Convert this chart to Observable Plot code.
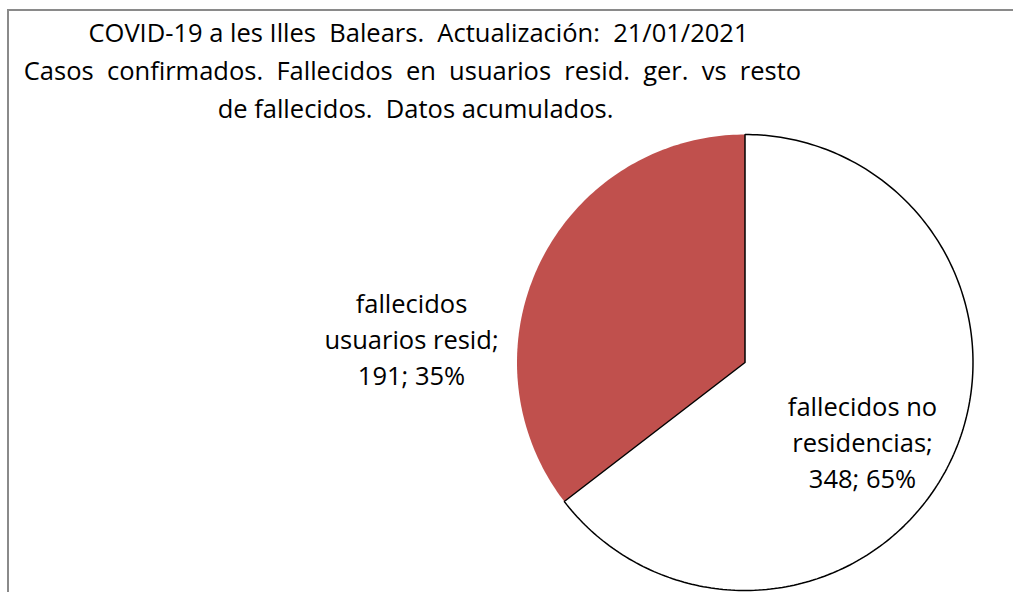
<!DOCTYPE html>
<html>
<head>
<meta charset="utf-8">
<script src="https://cdn.jsdelivr.net/npm/d3@7"></script>
<script src="https://cdn.jsdelivr.net/npm/@observablehq/plot@0.6"></script>
<style>
  html, body { margin: 0; padding: 0; background: #fff; }
  #wrap { position: relative; width: 1013px; height: 592px; overflow: hidden; }
  #border { position: absolute; left: 7px; top: 9px; width: 1040px; height: 620px; border: 2px solid #8a8a8a; box-sizing: border-box; pointer-events: none; }
  #chart { position: absolute; left: 0; top: 0; }
  svg text { white-space: pre; }
</style>
</head>
<body>
<div id="wrap"><div id="chart"></div><div id="border"></div></div>
<script>
// Data
const categories = ["fallecidos no residencias", "fallecidos usuarios resid"];
const values = [348, 191];
const percents = ["65%", "35%"];
const labelTexts = ["fallecidos no\nresidencias;", "fallecidos\nusuarios resid;"];
const colors = ["#ffffff", "#C0504D"];
const titleLines = [
  "COVID-19 a les Illes  Balears.  Actualización:  21/01/2021",
  "Casos  confirmados.  Fallecidos  en  usuarios  resid.  ger.  vs  resto",
  "de fallecidos.  Datos acumulados."
];

// Pie geometry from data (clockwise from 12 o'clock, like Excel)
const arcs = d3.pie().sort(null).startAngle(0).endAngle(2 * Math.PI)(values);
const slicePts = [];
arcs.forEach((a, i) => {
  const n = Math.max(4, Math.ceil((a.endAngle - a.startAngle) / (Math.PI / 180)));
  slicePts.push({k: i, x: 0, y: 0});
  for (let j = 0; j <= n; j++) {
    const t = a.startAngle + (a.endAngle - a.startAngle) * j / n;
    slicePts.push({k: i, x: Math.sin(t), y: Math.cos(t)});
  }
  slicePts.push({k: i, x: 0, y: 0});
});
// labels anchored at the pie centre, offset like Excel's label layout
const labels = arcs.map((a, i) => ({k: i, x: 0, y: 0,
  text: labelTexts[i] + "\n" + values[i] + "; " + percents[i]}));

const font = 25.5;
const chart = Plot.plot({
  width: 1013,
  height: 592,
  margin: 0,
  x: {domain: [-1, 1], range: [516.5, 972.5], axis: null},
  y: {domain: [-1, 1], range: [590, 134], axis: null},
  style: {fontFamily: "'Open Sans', 'Noto Sans', sans-serif", background: "white"},
  marks: [
    Plot.line(slicePts.filter(d => d.k === 1), {x: "x", y: "y", fill: colors[1], stroke: "none"}),
    Plot.line(slicePts.filter(d => d.k === 0), {x: "x", y: "y", fill: colors[0], stroke: "#000", strokeWidth: 1.5, strokeLinejoin: "miter"}),
    Plot.text(labels.filter(d => d.k === 0), {x: "x", y: "y", text: "text", fontSize: font, lineHeight: 36 / font, fill: "#000", dx: 117.5, dy: 78}),
    Plot.text(labels.filter(d => d.k === 1), {x: "x", y: "y", text: "text", fontSize: font, lineHeight: 36 / font, fill: "#000", dx: -333.5, dy: -25}),
    Plot.text([titleLines[0]], {text: d => d, frameAnchor: "top-left", dx: 418, dy: 41, lineAnchor: "bottom", fontSize: font, fill: "#000", textAnchor: "middle"}),
    Plot.text([titleLines[1]], {text: d => d, frameAnchor: "top-left", dx: 412, dy: 79, lineAnchor: "bottom", fontSize: font, fill: "#000", textAnchor: "middle"}),
    Plot.text([titleLines[2]], {text: d => d, frameAnchor: "top-left", dx: 415, dy: 117, lineAnchor: "bottom", fontSize: font, fill: "#000", textAnchor: "middle"})
  ]
});
document.getElementById("chart").appendChild(chart);
</script>
</body>
</html>
